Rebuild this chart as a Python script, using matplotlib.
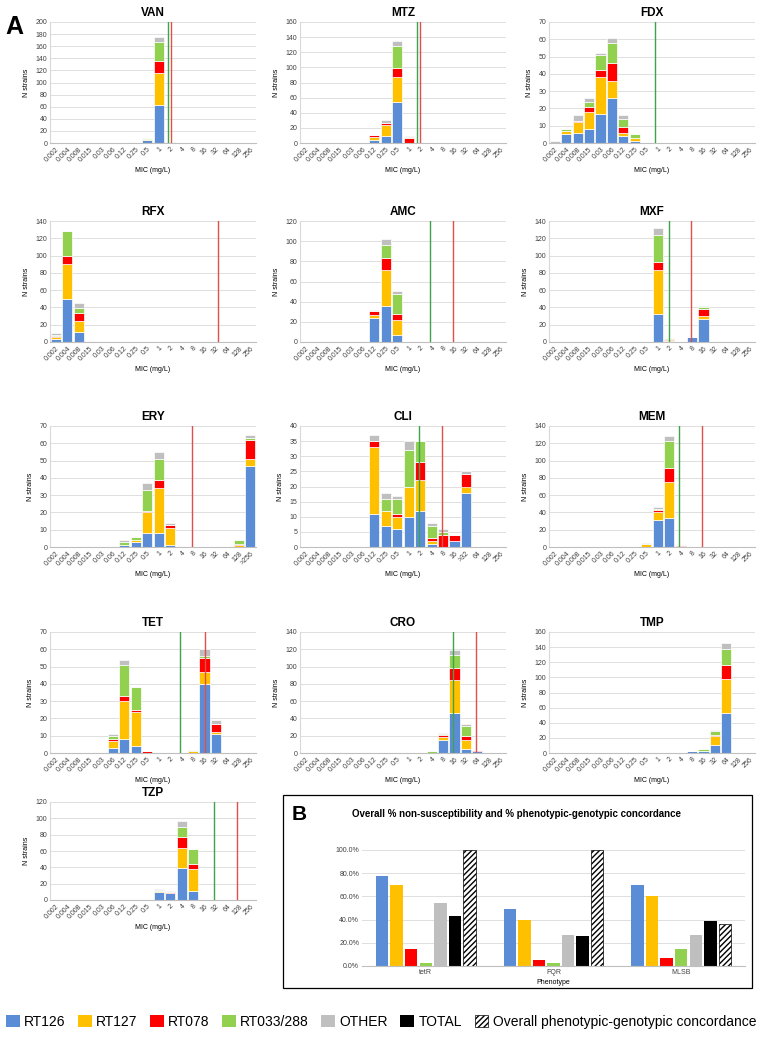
import numpy as np
import matplotlib.pyplot as plt
from matplotlib.patches import Patch, Rectangle

plt.rcParams['font.family'] = ['Liberation Sans', 'DejaVu Sans']

W, H = 762, 1050

# MIC categories
mic = ["0.002", "0.004", "0.008", "0.015", "0.03", "0.06", "0.12", "0.25", "0.5",
       "1", "2", "4", "8", "16", "32", "64", "128", "256"]
mic_ery = mic[:-1] + [">256"]
mic_cli = mic[:14] + [">32", "64", "128", "256"]

series = ["RT126", "RT127", "RT078", "RT033/288", "OTHER"]
colors = ["#5B8DD6", "#FFC000", "#FF0000", "#92D050", "#BFBFBF"]

# counts per MIC: (RT126, RT127, RT078, RT033/288, OTHER)
van_counts = {"0.25": (1, 0, 0, 0, 0), "0.5": (5, 1, 0, 2, 1), "1": (62, 54, 20, 31, 8),
              "2": (0, 0, 0, 2, 0)}
mtz_counts = {"0.12": (4, 4, 2, 0, 1), "0.25": (9, 15, 2, 1, 3), "0.5": (54, 33, 12, 29, 7),
              "1": (0, 0, 6, 2, 1)}
fdx_counts = {"0.002": (0, 0, 0, 0, 1), "0.004": (5, 2, 0, 1, 0), "0.008": (6, 6, 1, 0, 3),
              "0.015": (8, 10, 3, 3, 2), "0.03": (17, 21, 4, 9, 1), "0.06": (26, 10, 10, 12, 3),
              "0.12": (4, 2, 3, 5, 2), "0.25": (1, 2, 0, 2, 0)}
rfx_counts = {"0.002": (4, 2, 1, 1, 2), "0.004": (50, 40, 10, 28, 1), "0.008": (12, 12, 9, 6, 6),
              "0.015": (0, 0, 1, 0, 0)}
amc_counts = {"0.12": (24, 3, 4, 0, 1), "0.25": (36, 35, 12, 13, 6), "0.5": (7, 15, 6, 20, 3)}
mxf_counts = {"0.5": (1, 0, 0, 0, 0), "1": (32, 51, 10, 31, 8), "2": (1, 1, 2, 1, 0),
              "8": (6, 0, 0, 0, 0), "16": (27, 3, 8, 2, 2)}
ery_counts = {"0.12": (1, 0, 0, 2, 1), "0.25": (3, 1, 0, 2, 0), "0.5": (8, 12, 1, 12, 4),
              "1": (8, 26, 5, 12, 4), "2": (1, 10, 2, 0, 1), "128": (0, 1, 1, 2, 0),
              ">256": (47, 4, 11, 1, 2)}
cli_counts = {"0.12": (11, 22, 2, 0, 2), "0.25": (7, 5, 0, 4, 2), "0.5": (6, 4, 1, 5, 1),
              "1": (10, 10, 0, 12, 3), "2": (12, 10, 6, 7, 0), "4": (1, 1, 1, 4, 1),
              "8": (0, 0, 4, 1, 1), "16": (2, 0, 2, 0, 0), ">32": (18, 2, 4, 0, 1)}
mem_counts = {"0.5": (0, 3, 1, 0, 1), "1": (31, 9, 3, 1, 2), "2": (33, 42, 16, 32, 6),
              "4": (1, 0, 1, 0, 0)}
tet_counts = {"0.06": (3, 4, 1, 2, 1), "0.12": (8, 22, 3, 18, 3), "0.25": (4, 20, 1, 13, 0),
              "0.5": (0, 0, 1, 0, 0), "8": (0, 1, 0, 1, 0), "16": (40, 7, 8, 1, 4),
              "32": (11, 1, 5, 0, 2)}
cro_counts = {"4": (0, 0, 0, 2, 0), "8": (15, 3, 3, 1, 1), "16": (46, 39, 13, 15, 6),
              "32": (5, 10, 5, 11, 2), "64": (2, 0, 1, 0, 0)}
tmp_counts = {"8": (2, 0, 0, 0, 0), "16": (2, 0, 0, 3, 0), "32": (10, 12, 2, 5, 2),
              "64": (53, 45, 18, 22, 7)}
tzp_counts = {"1": (10, 1, 0, 1, 1), "2": (8, 1, 1, 0, 1), "4": (39, 25, 13, 12, 8),
              "8": (11, 27, 6, 19, 0)}

# panel: name, counts, categories, y max, y step, green line, red line
panels = [
    ("VAN", van_counts, mic, 200, 20, 9.8, 10.05),
    ("MTZ", mtz_counts, mic, 160, 20, 9.75, 9.95),
    ("FDX", fdx_counts, mic, 70, 10, 8.8, None),
    ("RFX", rfx_counts, mic, 140, 20, None, 14.2),
    ("AMC", amc_counts, mic, 120, 20, 10.85, 12.85),
    ("MXF", mxf_counts, mic, 140, 20, 9.95, 11.9),
    ("ERY", ery_counts, mic_ery, 70, 10, None, 11.9),
    ("CLI", cli_counts, mic_cli, 40, 5, 9.9, 11.9),
    ("MEM", mem_counts, mic, 140, 20, 10.85, 12.85),
    ("TET", tet_counts, mic, 70, 10, 10.86, 13.0),
    ("CRO", cro_counts, mic, 140, 20, 12.9, 14.9),
    ("TMP", tmp_counts, mic, 160, 20, None, None),
    ("TZP", tzp_counts, mic, 120, 20, 13.85, 15.85),
]

# panel B
phenotypes = ["tetR", "FQR", "MLSB"]
b_series = ["RT126", "RT127", "RT078", "RT033/288", "OTHER", "TOTAL",
            "Overall phenotypic-genotypic concordance"]
b_values = {
    "RT126": [77.5, 49, 70],
    "RT127": [70, 40, 60],
    "RT078": [15, 5, 6.5],
    "RT033/288": [3, 2.5, 15],
    "OTHER": [54, 27, 27],
    "TOTAL": [43.5, 26, 39],
    "Overall phenotypic-genotypic concordance": [100, 100, 36.5],
}
b_colors = colors + ["#000000", "white"]


def rect(left, top, width, height):
    return [left / W, 1 - (top + height) / H, width / W, height / H]


fig = plt.figure(figsize=(W / 100, H / 100), dpi=100)

col_left = [50, 300, 549]
row_top = [22, 221, 426, 632, 802]
row_h = [121, 121, 121, 121, 98]
ax_w = 206

for i, (name, counts, cats, ymax, ystep, gx, rx) in enumerate(panels):
    r, c = divmod(i, 3)
    ax = fig.add_axes(rect(col_left[c], row_top[r], ax_w, row_h[r]))
    x = np.arange(len(cats))
    bottom = np.zeros(len(cats))
    for k in range(5):
        vals = np.array([counts.get(cat, (0, 0, 0, 0, 0))[k] for cat in cats], dtype=float)
        ax.bar(x, vals, bottom=bottom, width=0.88, color=colors[k],
               edgecolor='white', linewidth=0.5, zorder=2)
        bottom += vals
    if gx is not None:
        ax.axvline(gx, color='#3FA34D', lw=1.0, zorder=3)
    if rx is not None:
        ax.axvline(rx, color='#E0504A', lw=1.0, zorder=3)
    ax.set_xlim(-0.5, len(cats) - 0.5)
    ax.set_ylim(0, ymax)
    ax.set_yticks(np.arange(0, ymax + 1, ystep))
    ax.set_xticks(x)
    ax.set_xticklabels(cats, rotation=45, ha='right', rotation_mode='anchor')
    ax.tick_params(length=0, labelsize=5, colors='#404040', pad=2)
    ax.grid(axis='y', color='#D9D9D9', lw=0.6, zorder=0)
    for s in ['top', 'right']:
        ax.spines[s].set_visible(False)
    ax.spines['left'].set_color('#D9D9D9')
    ax.spines['bottom'].set_color('#BFBFBF')
    ax.set_title(name, fontsize=8.5, fontweight='bold', pad=4)
    ax.set_ylabel("N strains", fontsize=5, labelpad=4)
    ax.set_xlabel("MIC (mg/L)", fontsize=5, labelpad=3)

fig.text(5 / W, 1 - 34 / H, "A", fontsize=18, fontweight='bold')

# panel B box
fig.patches.append(Rectangle((283 / W, 1 - 988 / H), 469 / W, 193 / H,
                             transform=fig.transFigure, fill=False,
                             edgecolor='black', lw=0.9))
fig.text(292 / W, 1 - 820 / H, "B", fontsize=15, fontweight='bold')

axb = fig.add_axes(rect(362, 850, 383, 116))
nb = len(b_series)
bw = 0.8 / nb
xg = np.arange(len(phenotypes))
for k, s in enumerate(b_series):
    pos = xg - 0.4 + bw * (k + 0.5)
    if k == nb - 1:
        axb.bar(pos, b_values[s], width=bw * 0.85, color='white', edgecolor='black',
                hatch='//////', lw=0.5, zorder=2)
    else:
        axb.bar(pos, b_values[s], width=bw * 0.85, color=b_colors[k], zorder=2)
axb.set_ylim(0, 100)
axb.set_yticks(np.arange(0, 101, 20))
axb.set_yticklabels([f"{v:.1f}%" for v in np.arange(0, 101, 20)])
axb.set_xticks(xg)
axb.set_xticklabels(phenotypes)
axb.set_xlim(-0.5, 2.5)
axb.tick_params(length=0, labelsize=5, colors='#404040', pad=2)
axb.grid(axis='y', color='#D9D9D9', lw=0.6, zorder=0)
for s in ['top', 'right', 'left']:
    axb.spines[s].set_visible(False)
axb.spines['bottom'].set_color('#BFBFBF')
axb.set_xlabel("Phenotype", fontsize=5, labelpad=2)
fig.text(517 / W, 1 - 814 / H,
         "Overall % non-susceptibility and % phenotypic-genotypic concordance",
         fontsize=7, fontweight='bold', ha='center', va='center')

# legend
handles = [Patch(facecolor=b_colors[k], edgecolor='none') for k in range(6)]
handles.append(Patch(facecolor='white', edgecolor='black', hatch='//////', lw=0.5))
fig.legend(handles, b_series, loc='center', bbox_to_anchor=(0.5, 1 - 1022 / H),
           ncol=7, frameon=False, fontsize=10, handlelength=1.0, handleheight=1.0,
           handletextpad=0.3, columnspacing=0.9)

fig.savefig("out.png", dpi=100)
